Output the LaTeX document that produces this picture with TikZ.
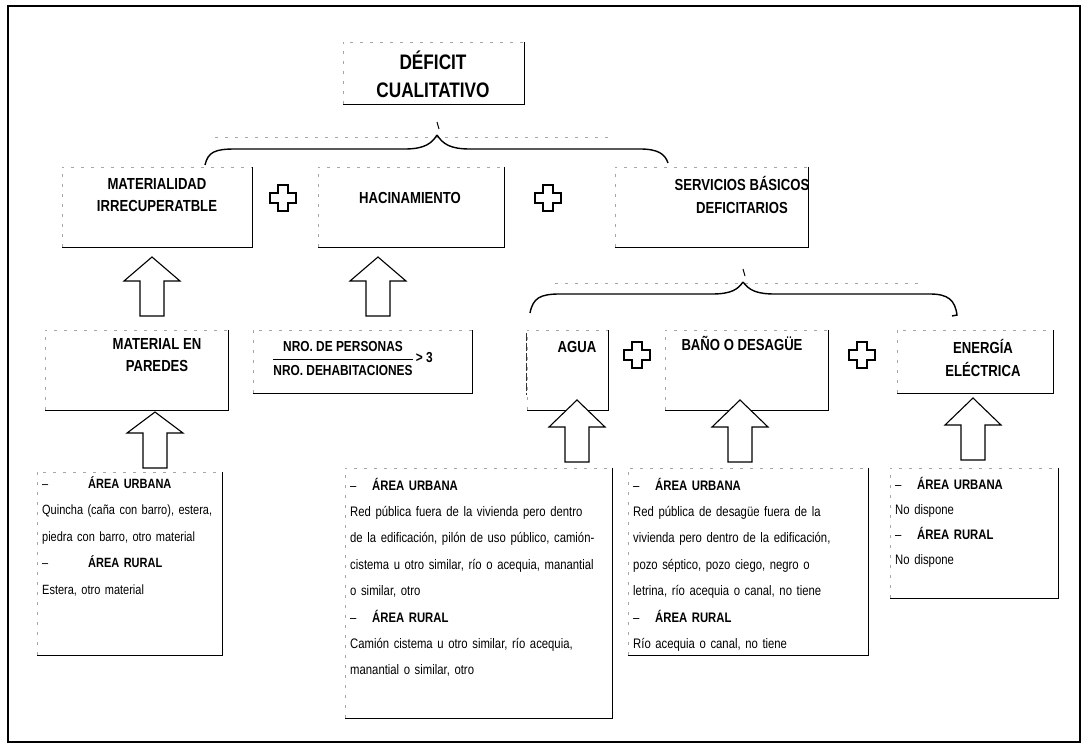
\documentclass[tikz,border=0pt]{standalone}
\usepackage{fontspec}
\setmainfont{Liberation Sans}[FakeStretch=0.82]
\usetikzlibrary{fit,calc}
\tikzset{
  solidedge/.style={line width=1.3pt, black},
  faintedge/.style={line width=0.5pt, black!35, dash pattern=on 3pt off 7pt},
  darkdashed/.style={line width=0.9pt, black!80, dash pattern=on 8pt off 2pt},
  bracestyle/.style={line width=1.4pt, black},
  boxarea/.style={inner sep=0pt, draw=none},
  titletext/.style={font=\bfseries\fontsize{21}{28}\selectfont, align=center, inner sep=0pt},
  headtext/.style={font=\bfseries\fontsize{16}{22.5}\selectfont, align=center, inner sep=0pt},
  fractext/.style={font=\bfseries\fontsize{14.5}{16}\selectfont, inner sep=0pt},
  bodytext/.style={font=\fontsize{13.8}{26.4}\selectfont, align=left, inner sep=0pt, anchor=base west, text width=#1},
  blockarrow/.pic={\draw[line width=1.1pt, fill=white] (-12,0) -- (-12,-35) -- (-28,-35) -- (0,-#1) -- (28,-35) -- (12,-35) -- (12,0) -- cycle;},
  plussign/.pic={\draw[line width=1.1pt, fill=white] (-5,-13) -- (5,-13) -- (5,-5) -- (13,-5) -- (13,5) -- (5,5) -- (5,13) -- (-5,13) -- (-5,5) -- (-13,5) -- (-13,-5) -- (-5,-5) -- cycle;}
}
\newcommand\shadowbox[1]{%
  \draw[faintedge] (#1.south west) -- (#1.north west) -- (#1.north east);
  \draw[solidedge] (#1.north east) -- (#1.south east) -- (#1.south west);}
\newcommand\areadash[1]{\makebox[#1][l]{--}}
\begin{document}
\begin{tikzpicture}[x=1pt,y=-1pt]
\useasboundingbox (0,0) rectangle (1089,749);
\draw[line width=1.3pt] (8,6) rectangle (1080,742);

% level 0
\node[boxarea, fit={(343,42) (524,104)}] (bDef) {};
\shadowbox{bDef}
\node[titletext] (tDef) at (433,74) {DÉFICIT\\CUALITATIVO};

% level 1
\node[boxarea, fit={(62,167) (252,247)}] (bMat) {};
\node[boxarea, fit={(318,167) (504,247)}] (bHac) {};
\node[boxarea, fit={(615,167) (808,247)}] (bSer) {};
\shadowbox{bMat}\shadowbox{bHac}\shadowbox{bSer}
\node[headtext] (tMat) at (157,195) {MATERIALIDAD\\IRRECUPERATBLE};
\node[headtext] (tHac) at (410,198) {HACINAMIENTO};
\node[headtext] (tSer) at (742,195) {SERVICIOS BÁSICOS\\DEFICITARIOS};
\pic at (283,198) {plussign};
\pic at (548,198) {plussign};

% brace 1
\coordinate (c1) at (437,135);
\coordinate (l1) at (205,165);
\coordinate (r1) at (668,163);
\draw[faintedge] (215,137) -- (615,137);
\draw[bracestyle] (l1) .. controls (208,152) and (215,149) .. (235,149) -- (405,149) .. controls (425,149) and (432,143) .. (c1);
\draw[bracestyle] (c1) .. controls (443,144) and (450,149) .. (470,149) -- (640,149) .. controls (658,149) and (665,154) .. (r1);
\draw[line width=1pt] ($(c1)+(0,-13)$) -- ($(c1)+(2,-6)$);

% arrows level 2 -> 1
\pic at (152,316) {blockarrow=59};
\pic at (378,316) {blockarrow=59};

% level 2
\node[boxarea, fit={(45,330) (228,410)}] (bPar) {};
\node[boxarea, fit={(253,330) (472,393)}] (bFrac) {};
\node[boxarea, fit={(527,330) (608,410)}] (bAgua) {};
\node[boxarea, fit={(665,330) (828,410)}] (bBan) {};
\node[boxarea, fit={(897,330) (1053,393)}] (bEne) {};
\shadowbox{bPar}\shadowbox{bFrac}\shadowbox{bAgua}\shadowbox{bBan}\shadowbox{bEne}
\draw[darkdashed] ($(bAgua.north west)+(0,3)$) -- ($(bAgua.south west)+(0,-15)$);
\node[headtext] (tPar) at (157,355) {MATERIAL EN\\PAREDES};
\node[fractext] (fNum) at (343,347) {NRO. DE PERSONAS};
\node[fractext] (fDen) at (343,371) {NRO. DEHABITACIONES};
\draw[line width=1pt] (fDen.west |- 0,359) coordinate (fl) -- (fDen.east |- 0,359) coordinate (fr);
\node[fractext, anchor=west] (fGt) at ($(fr)+(3,-1)$) {> 3};
\node[headtext] (tAgua) at (577,347) {AGUA};
\node[headtext] (tBan) at (742,343) {BAÑO O DESAGÜE};
\node[headtext] (tEne) at (983,358) {ENERGÍA\\ELÉCTRICA};
\pic at (637,355) {plussign};
\pic at (862,355) {plussign};

% brace 2
\coordinate (c2) at (743,282);
\coordinate (l2) at (530,313);
\coordinate (r2) at (957,315);
\draw[faintedge] (555,283) -- (925,283);
\draw[bracestyle] (l2) .. controls (533,298) and (540,294) .. (560,294) -- (712,294) .. controls (732,294) and (738,289) .. (c2);
\draw[bracestyle] (c2) .. controls (749,290) and (756,294) .. (775,294) -- (930,294) .. controls (948,294) and (955,300) .. (r2) -- (952,316);
\draw[line width=1pt] ($(c2)+(0,-13)$) -- ($(c2)+(2,-6)$);

% arrows level 3 -> 2
\pic at (155,468) {blockarrow=56};
\pic at (577,462) {blockarrow=62};
\pic at (740,462) {blockarrow=62};
\pic at (973,460) {blockarrow=62};

% level 3
\node[boxarea, fit={(37,472) (222,655)}] (bA) {};
\node[boxarea, fit={(345,468) (612,718)}] (bB) {};
\node[boxarea, fit={(628,468) (868,655)}] (bC) {};
\node[boxarea, fit={(890,468) (1058,598)}] (bD) {};
\shadowbox{bA}\shadowbox{bB}\shadowbox{bC}\shadowbox{bD}

\node[bodytext=180pt, font=\fontsize{13.4}{26.5}\selectfont] (xA) at (42,488) {\areadash{46pt}\textbf{ÁREA URBANA}\\
Quincha (caña con barro), estera,\\
piedra con barro, otro material\\
\areadash{46pt}\textbf{ÁREA RURAL}\\
Estera, otro material};

\node[bodytext=260pt] (xB) at (350,490) {\areadash{22pt}\textbf{ÁREA URBANA}\\
Red pública fuera de la vivienda pero dentro\\
de la edificación, pilón de uso público, camión-\\
cistema u otro similar, río o acequia, manantial\\
o similar, otro\\
\areadash{22pt}\textbf{ÁREA RURAL}\\
Camión cistema u otro similar, río acequia,\\
manantial o similar, otro};

\node[bodytext=235pt] (xC) at (633,490) {\areadash{22pt}\textbf{ÁREA URBANA}\\
Red pública de desagüe fuera de la\\
vivienda pero dentro de la edificación,\\
pozo séptico, pozo ciego, negro o\\
letrina, río acequia o canal, no tiene\\
\areadash{22pt}\textbf{ÁREA RURAL}\\
Río acequia o canal, no tiene};

\node[bodytext=165pt, font=\fontsize{13.8}{25.3}\selectfont] (xD) at (895,489) {\areadash{22pt}\textbf{ÁREA URBANA}\\
No dispone\\
\areadash{22pt}\textbf{ÁREA RURAL}\\
No dispone};
\end{tikzpicture}
\end{document}
